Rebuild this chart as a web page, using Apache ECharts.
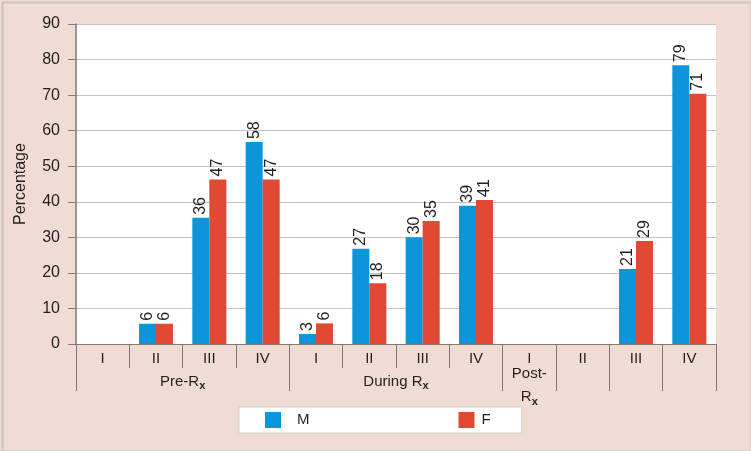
<!DOCTYPE html>
<html>
<head>
<meta charset="utf-8">
<style>
html,body{margin:0;padding:0;background:#f0dcd2;}
#chart{width:751px;height:451px;}
</style>
<script src="https://cdn.jsdelivr.net/npm/echarts@6/dist/echarts.min.js"></script>
</head>
<body>
<div id="chart"></div>
<script>
var categories = ['I', 'II', 'III', 'IV', 'I', 'II', 'III', 'IV', 'I', 'II', 'III', 'IV'];
var groupNames = ['Pre-Rx', 'During Rx', 'Post-Rx'];
var mValues = [0, 5.7, 35.5, 56.8, 2.8, 26.8, 30.0, 38.9, 0, 0, 21.1, 78.4];
var fValues = [0, 5.7, 46.3, 46.3, 5.8, 17.1, 34.6, 40.5, 0, 0, 29.0, 70.4];
var mLabels = ['', '6', '36', '58', '3', '27', '30', '39', '', '', '21', '79'];
var fLabels = ['', '6', '47', '47', '6', '18', '35', '41', '', '', '29', '71'];
var seriesNames = ['M', 'F'];

var FONT = '"Liberation Sans", Arial, sans-serif';
var TXT = '#231f20';
var AX = '#7a7a7a';

// half-step positions for group axis: index 2k = boundary k
var groupAxisData = [];
for (var i = 0; i <= categories.length * 2; i++) groupAxisData.push('');
groupAxisData[4] = groupNames[0];
groupAxisData[12] = groupNames[1];
groupAxisData[17] = groupNames[2];
var longTickIdx = [0, 8, 16, 18, 20, 22, 24];

var chart = echarts.init(document.getElementById('chart'), null, {renderer: 'canvas'});
var option = {
  backgroundColor: '#f0dcd2',
  animation: false,
  textStyle: {fontFamily: FONT, color: TXT},
  grid: {left: 76, right: 35, top: 24, bottom: 107, show: true, backgroundColor: '#ffffff', borderWidth: 0},
  legend: {
    data: seriesNames,
    left: 239, top: 407,
    padding: [5, 31, 5, 26],
    backgroundColor: '#ffffff',
    borderColor: '#d0d0d0', borderWidth: 1,
    itemWidth: 16, itemHeight: 16,
    itemGap: 149,
    icon: 'rect',
    formatter: function (n) { return n === 'M' ? '{m|M}' : '{f|F}'; },
    textStyle: {
      fontFamily: FONT, fontSize: 15, color: TXT,
      rich: {
        m: {fontFamily: FONT, fontSize: 15, color: TXT, padding: [0, 0, 0, 11]},
        f: {fontFamily: FONT, fontSize: 15, color: TXT, padding: [0, 0, 0, 2]}
      }
    }
  },
  xAxis: [
    {
      type: 'category',
      data: categories,
      position: 'bottom',
      axisLine: {show: true, lineStyle: {color: AX, width: 1}},
      axisTick: {show: true, length: 24, interval: 0, lineStyle: {color: AX}},
      axisLabel: {interval: 0, margin: 7, fontFamily: FONT, fontSize: 15, color: TXT},
      splitLine: {show: false}
    },
    {
      type: 'category',
      data: groupAxisData,
      boundaryGap: false,
      position: 'bottom',
      axisLine: {show: false},
      axisTick: {
        show: true, length: 47, lineStyle: {color: AX},
        interval: function (idx) { return longTickIdx.indexOf(idx) >= 0; }
      },
      axisLabel: {
        interval: 0, margin: 21, fontFamily: FONT, fontSize: 15, color: TXT,
        formatter: function (v) {
          if (!v) return '';
          if (v === 'Post-Rx') return '{a|Post-}\n{b|R}{s|x}';
          return '{c|' + v.slice(0, -1) + '}{s|x}';
        },
        rich: {
          a: {fontFamily: FONT, fontSize: 15, color: TXT, lineHeight: 18},
          b: {fontFamily: FONT, fontSize: 15, color: TXT, lineHeight: 28},
          c: {fontFamily: FONT, fontSize: 15, color: TXT, lineHeight: 33},
          s: {fontFamily: FONT, fontSize: 11, fontWeight: 'bold', color: TXT, padding: [9, 0, 0, 0]}
        }
      },
      splitLine: {show: false}
    }
  ],
  yAxis: {
    type: 'value',
    min: 0, max: 90, interval: 10,
    name: 'Percentage',
    nameLocation: 'middle',
    nameGap: 47,
    nameTextStyle: {fontFamily: FONT, fontSize: 16, color: TXT},
    axisLine: {show: true, lineStyle: {color: AX, width: 1.5}},
    axisTick: {show: true, length: 8, lineStyle: {color: AX}},
    axisLabel: {margin: 16, fontFamily: FONT, fontSize: 16, color: TXT},
    splitLine: {show: true, lineStyle: {color: '#c4c4c4', width: 1}}
  },
  series: [
    {
      name: seriesNames[0], type: 'bar', xAxisIndex: 0,
      data: mValues, barWidth: 17, barGap: '0%',
      itemStyle: {color: '#0c95d8'},
      label: {
        show: true, position: 'top', rotate: 90, align: 'left', verticalAlign: 'middle', distance: 3,
        fontFamily: FONT, fontSize: 16, color: TXT,
        formatter: function (p) { return mLabels[p.dataIndex]; }
      }
    },
    {
      name: seriesNames[1], type: 'bar', xAxisIndex: 0,
      data: fValues, barWidth: 17, barGap: '0%',
      itemStyle: {color: '#e04a34'},
      label: {
        show: true, position: 'top', rotate: 90, align: 'left', verticalAlign: 'middle', distance: 3,
        fontFamily: FONT, fontSize: 16, color: TXT,
        formatter: function (p) { return fLabels[p.dataIndex]; }
      }
    }
  ],
  graphic: [
    {type: 'rect', left: 0, top: 0, silent: true, z: 100,
     shape: {x: 1, y: 1, width: 749, height: 449},
     style: {fill: 'none', stroke: '#c6c6c6', lineWidth: 2}}
  ]
};
chart.setOption(option);
</script>
</body>
</html>
